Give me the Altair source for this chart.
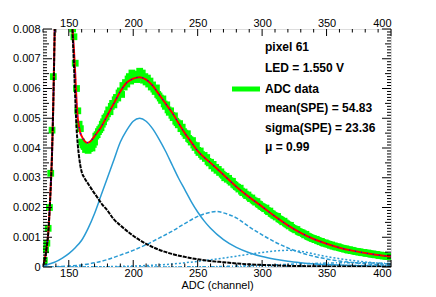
import altair as alt
import pandas as pd

# ---------------- data ----------------
channel_first = 130
adc_data = [
    # 130-139
    0.00003, 0.00022, 0.00058, 0.00080, 0.00130, 0.00200, 0.00315, 0.00460, 0.00640, 0.00850,
    # 140-149
    0.01100, 0.01350, 0.01600, 0.01800, 0.01950, 0.02000, 0.01980, 0.01900, 0.01780, 0.01600,
    # 150-159
    0.01360, 0.01120, 0.00900, 0.00800, 0.00774, 0.00685, 0.00600, 0.00525, 0.00480, 0.00465,
    # 160-169
    0.00420, 0.00410, 0.00405, 0.00395, 0.00400, 0.00392, 0.00398, 0.00405, 0.00400, 0.00412,
    # 170-179
    0.00420, 0.00440, 0.00445, 0.00455, 0.00462, 0.00468, 0.00480, 0.00488, 0.00500, 0.00505,
    # 180-189
    0.00515, 0.00528, 0.00522, 0.00540, 0.00550, 0.00545, 0.00562, 0.00570, 0.00568, 0.00585,
    # 190-199
    0.00592, 0.00580, 0.00610, 0.00605, 0.00620, 0.00615, 0.00632, 0.00640, 0.00625, 0.00652,
    # 200-209
    0.00640, 0.00635, 0.00648, 0.00630, 0.00645, 0.00658, 0.00640, 0.00652, 0.00628, 0.00640,
    # 210-219
    0.00622, 0.00635, 0.00615, 0.00625, 0.00605, 0.00612, 0.00598, 0.00590, 0.00602, 0.00580,
    # 220-229
    0.00575, 0.00568, 0.00560, 0.00565, 0.00548, 0.00540, 0.00545, 0.00528, 0.00520, 0.00525,
    # 230-239
    0.00510, 0.00502, 0.00508, 0.00490, 0.00485, 0.00478, 0.00482, 0.00465, 0.00470, 0.00455,
    # 240-249
    0.00450, 0.00442, 0.00448, 0.00432, 0.00428, 0.00420, 0.00425, 0.00410, 0.00402, 0.00408,
    # 250-259
    0.00392, 0.00385, 0.00390, 0.00378, 0.00372, 0.00375, 0.00365, 0.00368, 0.00355, 0.00350,
    # 260-269
    0.00352, 0.00340, 0.00345, 0.00332, 0.00335, 0.00325, 0.00328, 0.00318, 0.00320, 0.00312,
    # 270-279
    0.00308, 0.00300, 0.00305, 0.00295, 0.00298, 0.00290, 0.00285, 0.00288, 0.00278, 0.00275,
    # 280-289
    0.00270, 0.00268, 0.00262, 0.00265, 0.00255, 0.00250, 0.00252, 0.00245, 0.00240, 0.00242,
    # 290-299
    0.00235, 0.00230, 0.00232, 0.00225, 0.00222, 0.00218, 0.00220, 0.00212, 0.00210, 0.00205,
    # 300-309
    0.00203, 0.00200, 0.00196, 0.00198, 0.00190, 0.00186, 0.00188, 0.00180, 0.00178, 0.00174,
    # 310-319
    0.00172, 0.00168, 0.00170, 0.00162, 0.00160, 0.00157, 0.00152, 0.00154, 0.00148, 0.00145,
    # 320-329
    0.00142, 0.00138, 0.00140, 0.00133, 0.00130, 0.00128, 0.00125, 0.00126, 0.00120, 0.00118,
    # 330-339
    0.00116, 0.00115, 0.00112, 0.00108, 0.00110, 0.00104, 0.00102, 0.00100, 0.00098, 0.00096,
    # 340-349
    0.00095, 0.00092, 0.00093, 0.00089, 0.00088, 0.00085, 0.00086, 0.00082, 0.00080, 0.00081,
    # 350-359
    0.00078, 0.00077, 0.00076, 0.00073, 0.00074, 0.00070, 0.00071, 0.00068, 0.00067, 0.00068,
    # 360-369
    0.00065, 0.00064, 0.00063, 0.00062, 0.00060, 0.00061, 0.00058, 0.00057, 0.00058, 0.00055,
    # 370-379
    0.00056, 0.00054, 0.00053, 0.00052, 0.00052, 0.00050, 0.00051, 0.00049, 0.00048, 0.00049,
    # 380-389
    0.00047, 0.00046, 0.00047, 0.00045, 0.00044, 0.00043, 0.00044, 0.00042, 0.00041, 0.00042,
    # 390-399
    0.00040, 0.00039, 0.00040, 0.00038, 0.00037, 0.00038, 0.00036, 0.00036, 0.00035, 0.00036,
    # 400
    0.00034,
]
adc_channel = list(range(channel_first, channel_first + len(adc_data)))

fit_x = [130, 131, 132, 133, 134, 135, 136, 137, 138, 139, 140, 142, 145, 148, 150, 151, 152,
         153, 154, 155, 156, 157, 158, 159, 160, 162, 164, 166, 168, 170, 175, 180, 185, 190,
         195, 200, 205, 210, 215, 220, 225, 230, 235, 240, 245, 250, 260, 270, 280, 290, 300,
         310, 320, 330, 340, 350, 360, 370, 380, 390, 400]
fit_total = [0.00005, 0.0002, 0.0004, 0.0007, 0.0011, 0.0018, 0.0027, 0.0038, 0.0055, 0.0078,
             0.0105, 0.016, 0.020, 0.018, 0.0135, 0.0110, 0.0092, 0.0080, 0.0073, 0.0065,
             0.0056, 0.0050, 0.0047, 0.0045, 0.0044, 0.00425, 0.00418, 0.0042, 0.00428,
             0.0044, 0.0047, 0.0051, 0.0055, 0.0059, 0.0062, 0.00633, 0.00638, 0.0063,
             0.0061, 0.0058, 0.0055, 0.0052, 0.00485, 0.0045, 0.0042, 0.0039, 0.0035,
             0.0031, 0.0027, 0.00235, 0.00203, 0.0017, 0.0014, 0.00115, 0.00094, 0.00078,
             0.00065, 0.00055, 0.00047, 0.0004, 0.00035]

ped_x = [130, 131, 132, 133, 134, 135, 136, 137, 138, 139, 140, 142, 145, 148, 150, 151, 152,
         153, 154, 155, 156, 157, 158, 159, 160, 162, 165, 168, 172, 176, 180, 185, 190, 200,
         210, 220, 230, 240, 250, 260, 270, 280, 290, 300, 320, 350, 400]
ped_y = [0.00005, 0.0002, 0.0004, 0.0007, 0.0011, 0.0018, 0.0027, 0.0038, 0.0055, 0.0078,
         0.0105, 0.016, 0.0198, 0.0175, 0.0130, 0.0105, 0.0088, 0.0078, 0.0068, 0.0057,
         0.0047, 0.0041, 0.0037, 0.0034, 0.0032, 0.0030, 0.0028, 0.0026, 0.00235, 0.0021,
         0.0019, 0.0016, 0.0014, 0.00105, 0.00078, 0.00058, 0.00044, 0.00034, 0.00026,
         0.0002, 0.00016, 0.00012, 0.00009, 0.00007, 0.00004, 0.00002, 0.00001]

pe1_x = [130, 135, 140, 145, 150, 155, 160, 165, 170, 175, 180, 185, 190, 195, 200, 205, 210,
         215, 220, 225, 230, 235, 240, 245, 250, 255, 260, 270, 280, 290, 300, 310, 320, 330,
         340, 350, 370, 400]
pe1_y = [0.00003, 0.0001, 0.00018, 0.0003, 0.00045, 0.00065, 0.0009, 0.0013, 0.0018, 0.0024,
         0.0030, 0.0036, 0.0042, 0.0046, 0.0049, 0.0050, 0.0049, 0.00465, 0.0043, 0.0039,
         0.00345, 0.0030, 0.0026, 0.0022, 0.00185, 0.00155, 0.0013, 0.00092, 0.00066, 0.00048,
         0.00035, 0.00026, 0.00019, 0.00014, 0.0001, 0.00008, 0.00005, 0.00002]

pe2_x = [130, 140, 150, 160, 170, 180, 190, 200, 210, 220, 230, 240, 250, 260, 265, 270, 280,
         290, 300, 310, 320, 330, 340, 350, 360, 370, 380, 390, 400]
pe2_y = [0.0, 0.00001, 0.00003, 0.00007, 0.00014, 0.00025, 0.0004, 0.00056, 0.00075, 0.00097,
         0.0012, 0.00146, 0.0017, 0.00184, 0.00187, 0.00182, 0.00165, 0.00135, 0.00108,
         0.00084, 0.00064, 0.00048, 0.00036, 0.00027, 0.0002, 0.00015, 0.00011, 0.00008,
         0.00006]

pe3_x = [130, 170, 190, 210, 230, 250, 270, 290, 300, 310, 320, 330, 340, 350, 360, 370, 380,
         390, 400]
pe3_y = [0.0, 0.000005, 0.00002, 0.00005, 0.0001, 0.00019, 0.0003, 0.00043, 0.00049, 0.00054,
         0.00056, 0.00053, 0.00044, 0.00035, 0.00028, 0.00022, 0.00017, 0.00013, 0.0001]

pe4_x = [130, 200, 240, 260, 280, 300, 320, 340, 360, 380, 400]
pe4_y = [0.0, 0.0, 0.000005, 0.00001, 0.00003, 0.00006, 0.00009, 0.00012, 0.00014, 0.00014,
         0.00012]

pe5_x = [130, 260, 300, 340, 370, 400]
pe5_y = [0.0, 0.0, 0.00001, 0.00003, 0.00005, 0.00005]

x_major = [150, 200, 250, 300, 350, 400]
y_major = [0, 0.001, 0.002, 0.003, 0.004, 0.005, 0.006, 0.007, 0.008]
x_minor = [v for v in range(130, 401, 10) if v % 50]
y_minor = [i / 10000 for i in range(0, 81) if i % 10 and i % 5]
y_mid = [i / 10000 for i in range(5, 81, 10)]

info_lines = ["pixel 61", "LED = 1.550 V", "ADC data", "mean(SPE) = 54.83",
              "sigma(SPE) = 23.36", "\u03bc = 0.99"]

# ---------------- chart ----------------
W, H = 348, 238
FONT = "Liberation Sans"
BLUE = "#2a9bd4"
xs = alt.Scale(domain=[130, 400], nice=False, zero=False)
ys = alt.Scale(domain=[0, 0.008], nice=False, zero=False)


def curve(xv, yv, color, width, dash=None):
    df = pd.DataFrame({"x": xv, "y": yv})
    kw = dict(color=color, strokeWidth=width, clip=True, interpolate="monotone")
    if dash is not None:
        kw["strokeDash"] = dash
    return alt.Chart(df).mark_line(**kw).encode(
        x=alt.X("x:Q", scale=xs, axis=None),
        y=alt.Y("y:Q", scale=ys, axis=None),
    )


points = alt.Chart(pd.DataFrame({"ch": adc_channel, "v": adc_data})).mark_square(
    size=46, color="#00ff00", opacity=1, clip=True, strokeWidth=0
).encode(
    x=alt.X("ch:Q", scale=xs, axis=alt.Axis(
        orient="bottom", values=x_major, ticks=False, domain=False, grid=False,
        title="ADC (channel)", labelFont=FONT, labelFontSize=11, labelColor="black",
        labelPadding=0, titleFont=FONT, titleFontSize=11, titleFontWeight="normal",
        titleColor="black", titlePadding=1)),
    y=alt.Y("v:Q", scale=ys, axis=alt.Axis(
        orient="left", values=y_major, ticks=False, domain=False, grid=False, title=None,
        labelFont=FONT, labelFontSize=11, labelColor="black", labelPadding=3,
        labelExpr="datum.value == 0 ? '0' : format(datum.value, '.3f')")),
)

layers = [points]
layers.append(curve(pe5_x, pe5_y, BLUE, 1.5, [1, 2]))
layers.append(curve(pe4_x, pe4_y, BLUE, 1.5, [3, 2, 1, 2]))
layers.append(curve(pe3_x, pe3_y, BLUE, 1.5, [2, 2]))
layers.append(curve(pe2_x, pe2_y, BLUE, 1.5, [4, 2]))
layers.append(curve(pe1_x, pe1_y, BLUE, 1.5))
layers.append(curve(fit_x, fit_total, "#ff0000", 2))
layers.append(curve(fit_x, fit_total, "#0000ff", 1.2, [1, 5]))
layers.append(curve(ped_x, ped_y, "#000000", 2, [4, 1]))

# inward ticks (ROOT style)
top_major = alt.Chart(pd.DataFrame({"t": x_major})).mark_rule(color="black", strokeWidth=1).encode(
    x=alt.X("t:Q", scale=xs, axis=alt.Axis(
        orient="top", values=x_major, ticks=False, domain=False, grid=False, title=None,
        labelFont=FONT, labelFontSize=11, labelColor="black", labelPadding=1)),
    y=alt.value(0), y2=alt.value(7))
layers.append(top_major)


def xticks(vals, y0, y1):
    return alt.Chart(pd.DataFrame({"t": vals})).mark_rule(color="black", strokeWidth=1).encode(
        x=alt.X("t:Q", scale=xs, axis=None), y=alt.value(y0), y2=alt.value(y1))


def yticks(vals, x0, x1):
    return alt.Chart(pd.DataFrame({"t": vals})).mark_rule(color="black", strokeWidth=1).encode(
        y=alt.Y("t:Q", scale=ys, axis=None), x=alt.value(x0), x2=alt.value(x1))


layers += [
    xticks(x_major, H, H - 7),
    xticks(x_minor, H, H - 3.5),
    xticks(x_minor, 0, 3.5),
    yticks(y_major, 0, 9),
    yticks(y_mid, 0, 6),
    yticks(y_minor, 0, 4),
    yticks(y_major, W, W - 9),
    yticks(y_mid, W, W - 6),
    yticks(y_minor, W, W - 4),
]

# legend / info box
legend_line = alt.Chart(pd.DataFrame({"a": [0]})).mark_rule(
    color="#00ff00", strokeWidth=5).encode(
    x=alt.value(189), x2=alt.value(217), y=alt.value(60))
layers.append(legend_line)

text_y = [17.7, 39.3, 60.3, 78.7, 98.7, 117.7]
info = alt.Chart(pd.DataFrame({"label": info_lines, "py": text_y})).mark_text(
    align="left", baseline="middle", font=FONT, fontSize=12, fontWeight="bold",
    color="black").encode(
    text="label:N", x=alt.value(222), y=alt.Y("py:Q", scale=None, axis=None))
layers.append(info)

chart = alt.layer(*layers).resolve_axis(x="independent", y="independent").properties(
    width=W, height=H,
    padding={"left": 35, "top": 21, "right": 37, "bottom": 26},
    autosize=alt.AutoSizeParams(type="none"),
).configure_view(stroke="black", strokeWidth=1).configure(background="white")

chart.save("out.html", embed_options={"renderer": "svg", "actions": False})
